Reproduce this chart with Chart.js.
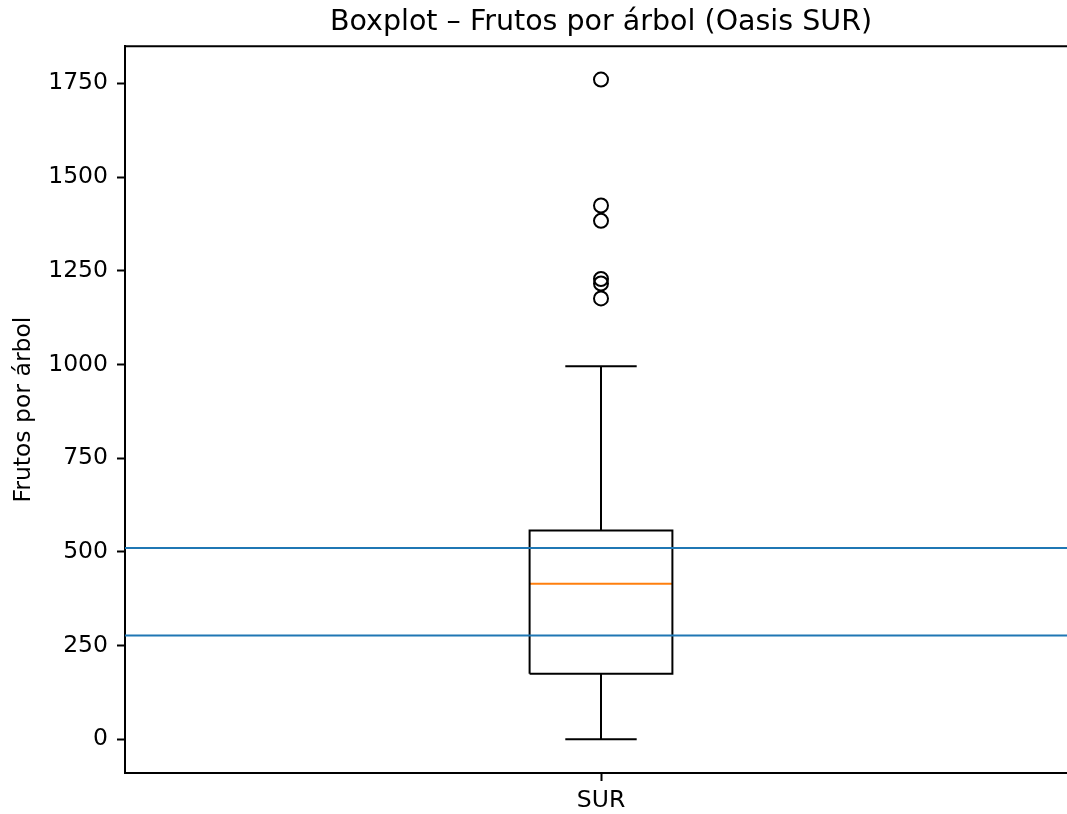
<!DOCTYPE html>
<html>
<head>
<meta charset="utf-8">
<script src="https://cdn.jsdelivr.net/npm/chart.js@4/dist/chart.umd.min.js"></script>
<style>
  html, body { margin: 0; padding: 0; background: #fff; overflow: hidden; }
  #wrap { width: 1086px; height: 814px; }
</style>
</head>
<body>
<div id="wrap"><canvas id="boxChart" width="1086" height="814"></canvas></div>
<script>
// Data
const categories = ['SUR'];
const q1 = [175];
const median = [415];
const q3 = [557];
const whiskerLow = [0];
const whiskerHigh = [995];
const outliers = [1760, 1424, 1383, 1228, 1216, 1176];
const refLines = [277, 510];
const yTicks = [0, 250, 500, 750, 1000, 1250, 1500, 1750];

document.addEventListener("DOMContentLoaded", function () {
    const ctx = document.getElementById('boxChart').getContext('2d');
    Chart.defaults.font.family = "'DejaVu Sans', sans-serif";
    Chart.defaults.color = '#000';

    const boxW = 0.15;   // matplotlib default box width
    const capW = 0.075;
    const pos = 1;

    const datasets = [];
    const lineStyle = { type: 'line', pointRadius: 0, borderWidth: 2, fill: false, tension: 0 };

    // reference lines (axhline) in blue
    refLines.forEach(function (v) {
        datasets.push(Object.assign({}, lineStyle, {
            data: [{ x: 0.5, y: v }, { x: 1.5, y: v }],
            borderColor: '#1f77b4'
        }));
    });

    categories.forEach(function (cat, i) {
        const c = pos + i;
        // box
        datasets.push(Object.assign({}, lineStyle, {
            data: [
                { x: c - boxW / 2, y: q1[i] }, { x: c + boxW / 2, y: q1[i] },
                { x: c + boxW / 2, y: q3[i] }, { x: c - boxW / 2, y: q3[i] },
                { x: c - boxW / 2, y: q1[i] }
            ],
            borderColor: '#000'
        }));
        // whiskers
        datasets.push(Object.assign({}, lineStyle, {
            data: [{ x: c, y: q1[i] }, { x: c, y: whiskerLow[i] }], borderColor: '#000'
        }));
        datasets.push(Object.assign({}, lineStyle, {
            data: [{ x: c, y: q3[i] }, { x: c, y: whiskerHigh[i] }], borderColor: '#000'
        }));
        // caps
        datasets.push(Object.assign({}, lineStyle, {
            data: [{ x: c - capW / 2, y: whiskerLow[i] }, { x: c + capW / 2, y: whiskerLow[i] }], borderColor: '#000'
        }));
        datasets.push(Object.assign({}, lineStyle, {
            data: [{ x: c - capW / 2, y: whiskerHigh[i] }, { x: c + capW / 2, y: whiskerHigh[i] }], borderColor: '#000'
        }));
        // median
        datasets.push(Object.assign({}, lineStyle, {
            data: [{ x: c - boxW / 2, y: median[i] }, { x: c + boxW / 2, y: median[i] }], borderColor: '#ff7f0e'
        }));
        // fliers
        datasets.push({
            type: 'scatter',
            data: outliers.map(function (v) { return { x: c, y: v }; }),
            pointStyle: 'circle',
            pointRadius: 7,
            pointBackgroundColor: 'rgba(0,0,0,0)',
            pointBorderColor: '#000',
            pointBorderWidth: 2
        });
    });

    // top spine (right spine falls outside the window)
    const frame = {
        id: 'frame',
        afterDatasetsDraw: function (chart) {
            const a = chart.chartArea;
            const c = chart.ctx;
            c.save();
            c.strokeStyle = '#000';
            c.lineWidth = 2;
            c.beginPath();
            c.moveTo(a.left, a.top);
            c.lineTo(a.right, a.top);
            c.stroke();
            c.restore();
        }
    };

    new Chart(ctx, {
        data: { datasets: datasets },
        plugins: [frame],
        options: {
            responsive: false,
            animation: false,
            layout: { padding: { left: 0, right: 3, top: 0, bottom: 0 } },
            plugins: {
                legend: { display: false },
                tooltip: { enabled: false },
                title: {
                    display: true,
                    fullSize: false,
                    text: 'Boxplot – Frutos por árbol (Oasis SUR)',
                    color: '#000',
                    font: { size: 28.5, weight: 'normal' },
                    padding: { top: 5, bottom: 7 }
                }
            },
            scales: {
                x: {
                    type: 'linear',
                    min: 0.5,
                    max: 1.5,
                    grid: { drawOnChartArea: false, tickLength: 8, tickColor: '#000', tickWidth: 2 },
                    border: { display: true, color: '#000', width: 2 },
                    afterBuildTicks: function (s) {
                        s.ticks = categories.map(function (c, i) { return { value: pos + i }; });
                    },
                    afterFit: function (s) {
                        s.height = 41;
                        s.paddingLeft = 0;
                        s.paddingRight = 0;
                    },
                    ticks: {
                        color: '#000',
                        font: { size: 23.5 },
                        padding: 6,
                        maxRotation: 0,
                        callback: function (v) { return categories[Math.round(v) - pos]; }
                    }
                },
                y: {
                    type: 'linear',
                    min: -90,
                    max: 1849,
                    grid: { drawOnChartArea: false, tickLength: 8, tickColor: '#000', tickWidth: 2 },
                    border: { display: true, color: '#000', width: 2 },
                    afterBuildTicks: function (s) {
                        s.ticks = yTicks.map(function (v) { return { value: v }; });
                    },
                    afterFit: function (s) {
                        s.width = 125;
                        s.paddingTop = 0;
                        s.paddingBottom = 0;
                    },
                    ticks: {
                        color: '#000',
                        font: { size: 23.5 },
                        padding: 9,
                        callback: function (v) { return String(v); }
                    },
                    title: {
                        display: true,
                        text: 'Frutos por árbol',
                        color: '#000',
                        font: { size: 23.5 },
                        padding: { top: 10, bottom: 0 }
                    }
                }
            }
        }
    });
});
</script>
</body>
</html>
